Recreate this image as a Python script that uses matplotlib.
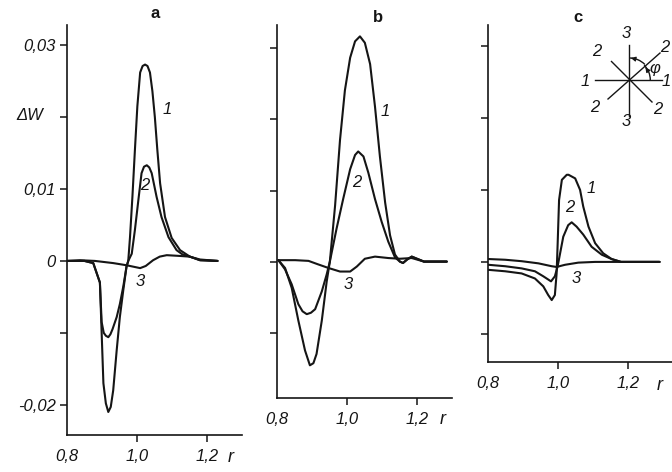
import numpy as np
import matplotlib
matplotlib.use("Agg")
import matplotlib.pyplot as plt
from matplotlib.patches import Arc

plt.rcParams['font.family'] = ['Liberation Sans', 'DejaVu Sans']
plt.rcParams['font.style'] = 'italic'
fs = 12
ink = '#151515'

# ---- panel a ----
ra1 = [0.800, 0.850, 0.875, 0.894, 0.899, 0.904, 0.911, 0.918, 0.925, 0.932, 0.942, 0.951,
       0.961, 0.970, 0.975, 0.980, 0.987, 0.994, 1.001, 1.009, 1.016, 1.023, 1.030, 1.037,
       1.044, 1.051, 1.058, 1.066, 1.080, 1.099, 1.123, 1.151, 1.180, 1.230]
wa1 = [0.0, 0.0, -0.0003, -0.0030, -0.0100, -0.0170, -0.0198, -0.0210, -0.0203, -0.0180,
       -0.0124, -0.0078, -0.0040, -0.0008, 0.0, 0.0033, 0.0090, 0.0154, 0.0215, 0.0262,
       0.0271, 0.0273, 0.0271, 0.0262, 0.0236, 0.0200, 0.0155, 0.0108, 0.0061, 0.0032,
       0.0015, 0.0006, 0.0001, 0.0]
ra2 = [0.800, 0.850, 0.875, 0.894, 0.899, 0.905, 0.911, 0.918, 0.924, 0.930, 0.942, 0.951,
       0.961, 0.970, 0.975, 0.985, 0.994, 1.004, 1.013, 1.020, 1.028, 1.035, 1.042, 1.056,
       1.070, 1.090, 1.113, 1.130, 1.151, 1.180, 1.230]
wa2 = [0.0, 0.0, -0.0003, -0.0030, -0.0085, -0.0100, -0.0104, -0.0106, -0.0102, -0.0095,
       -0.0078, -0.0060, -0.0035, -0.0008, 0.0, 0.0010, 0.0043, 0.0085, 0.0122, 0.0131,
       0.0133, 0.0130, 0.0122, 0.0089, 0.0061, 0.0033, 0.0015, 0.0009, 0.0006, 0.0001, 0.0]
ra3 = [0.800, 0.837, 0.880, 0.932, 0.970, 1.009, 1.025, 1.046, 1.065, 1.085, 1.120, 1.150,
       1.180, 1.230]
wa3 = [0.0, 0.0001, 0.0, -0.0003, -0.0006, -0.0010, -0.0007, 0.0001, 0.0006, 0.0008,
       0.0007, 0.0006, 0.0002, 0.0]

# ---- panel b ----
rb1 = [0.804, 0.823, 0.842, 0.861, 0.880, 0.894, 0.904, 0.913, 0.928, 0.942, 0.951, 0.966,
       0.980, 0.994, 1.009, 1.023, 1.037, 1.051, 1.066, 1.080, 1.094, 1.109, 1.123, 1.137,
       1.151, 1.160, 1.172, 1.185, 1.200, 1.220, 1.260, 1.285]
wb1 = [0.0002, -0.0009, -0.0037, -0.0083, -0.0125, -0.0146, -0.0143, -0.0130, -0.0083,
       -0.0028, 0.0, 0.0079, 0.0171, 0.0241, 0.0287, 0.0310, 0.0317, 0.0308, 0.0278, 0.0218,
       0.0148, 0.0083, 0.0037, 0.0010, 0.0, -0.0002, 0.0003, 0.0007, 0.0004, 0.0, 0.0, 0.0]
rb2 = [0.804, 0.823, 0.842, 0.861, 0.873, 0.885, 0.897, 0.909, 0.928, 0.942, 0.951, 0.970,
       0.989, 1.009, 1.023, 1.032, 1.047, 1.061, 1.080, 1.099, 1.118, 1.137, 1.151, 1.160,
       1.172, 1.185, 1.200, 1.220, 1.260, 1.285]
wb2 = [0.0002, -0.0011, -0.0032, -0.0060, -0.0070, -0.0074, -0.0072, -0.0067, -0.0042,
       -0.0018, 0.0, 0.0046, 0.0088, 0.0130, 0.0150, 0.0155, 0.0148, 0.0125, 0.0088, 0.0056,
       0.0028, 0.0006, 0.0, -0.0002, 0.0003, 0.0007, 0.0004, 0.0, 0.0, 0.0]
rb3 = [0.804, 0.852, 0.890, 0.918, 0.947, 0.980, 1.009, 1.028, 1.051, 1.080, 1.118, 1.151,
       1.185, 1.220, 1.285]
wb3 = [0.0002, 0.0002, 0.0001, -0.0004, -0.0009, -0.0014, -0.0014, -0.0007, 0.0004, 0.0007,
       0.0005, 0.0004, 0.0005, 0.0, 0.0]

# ---- panel c ----
rc1 = [0.801, 0.849, 0.896, 0.934, 0.958, 0.972, 0.982, 0.991, 0.996, 0.999, 1.003, 1.011,
       1.025, 1.030, 1.049, 1.063, 1.072, 1.087, 1.106, 1.129, 1.153, 1.180, 1.290]
wc1 = [-0.0011, -0.0013, -0.0016, -0.0023, -0.0034, -0.0046, -0.0053, -0.0046, -0.0016,
       0.0026, 0.0086, 0.0114, 0.0121, 0.0121, 0.0116, 0.0100, 0.0077, 0.0049, 0.0026,
       0.0012, 0.0004, 0.0, 0.0]
rc2 = [0.801, 0.849, 0.896, 0.934, 0.958, 0.980, 0.991, 0.999, 1.006, 1.015, 1.029, 1.039,
       1.053, 1.072, 1.096, 1.125, 1.153, 1.180, 1.290]
wc2 = [-0.0004, -0.0006, -0.0009, -0.0013, -0.0020, -0.0027, -0.0020, -0.0006, 0.0012,
       0.0035, 0.0051, 0.0055, 0.0049, 0.0038, 0.0021, 0.0010, 0.0004, 0.0, 0.0]
rc3 = [0.801, 0.849, 0.896, 0.944, 0.982, 0.996, 1.020, 1.058, 1.106, 1.290]
wc3 = [0.0004, 0.0003, 0.0001, -0.0002, -0.0006, -0.0007, -0.0004, -0.0001, 0.0, 0.0]

yticks = [-0.02, -0.01, 0.0, 0.01, 0.02, 0.03]
ylabels_a = ['-0,02', '', '0', '0,01', '', '0,03']
xticks = [0.8, 1.0, 1.2]
xlabels = ['0,8', '1,0', '1,2']

W, H = 672, 472
fig = plt.figure(figsize=(6.72, 4.72), dpi=100)

def frac(left, right, top, bottom):
    return [left / W, 1 - bottom / H, (right - left) / W, (bottom - top) / H]

panels = [
    (frac(67, 242, 25, 435), (0.8, 1.3), (-0.0242, 0.0328), True,
     [(ra1, wa1), (ra2, wa2), (ra3, wa3)],
     [(1.085, 0.021, '1'), (1.023, 0.0105, '2'), (1.009, -0.0029, '3')]),
    (frac(277, 452, 25, 398), (0.8, 1.3), (-0.0192, 0.0333), False,
     [(rb1, wb1), (rb2, wb2), (rb3, wb3)],
     [(1.109, 0.0211, '1'), (1.028, 0.0111, '2'), (1.004, -0.0032, '3')]),
    (frac(488, 672.5, 25, 362), (0.8, 1.327), (-0.0139, 0.0329), False,
     [(rc1, wc1), (rc2, wc2), (rc3, wc3)],
     [(1.096, 0.0102, '1'), (1.034, 0.0075, '2'), (1.053, -0.0023, '3')]),
]

for rect, xl, yl, first, curves, labels in panels:
    ax = fig.add_axes(rect)
    for r, w in curves:
        ax.plot(r, w, color=ink, lw=1.5, solid_capstyle='round', solid_joinstyle='round')
    ax.set_xlim(*xl)
    ax.set_ylim(*yl)
    ax.spines['top'].set_visible(False)
    ax.spines['right'].set_visible(False)
    for s in ('left', 'bottom'):
        ax.spines[s].set_linewidth(1.2)
        ax.spines[s].set_color(ink)
    ax.set_yticks(yticks, ylabels_a if first else [''] * len(yticks))
    ax.set_xticks(xticks, xlabels)
    ax.tick_params(direction='out', length=5, width=1.1, colors=ink, labelsize=fs)
    ax.tick_params(axis='x', pad=5)
    ax.tick_params(axis='y', pad=3)
    ax.xaxis.get_major_ticks()[0].tick1line.set_visible(False)
    ax.set_ylim(*yl)
    for x, y, t in labels:
        ax.text(x, y, t, fontsize=fs, ha='center', va='center', color=ink)
    ax.patch.set_alpha(0)

# overlay in pixel coordinates for panel letters, axis names and the angle sketch
ov = fig.add_axes([0, 0, 1, 1], zorder=5)
ov.set_xlim(0, W)
ov.set_ylim(H, 0)
ov.axis('off')
ov.patch.set_alpha(0)

for x, y, t in [(155, 14, 'a'), (378, 17, 'b'), (578, 18, 'c')]:
    ov.text(x, y, t, fontsize=fs, ha='center', va='center', color=ink, style='normal',
            fontweight='bold')
ov.text(30, 116, 'ΔW', fontsize=fs, ha='center', va='center', color=ink)
for x, y in [(231, 457), (443, 419), (660, 385)]:
    ov.text(x, y, 'r', fontsize=fs + 1, ha='center', va='center', color=ink)

cx, cy = 629.3, 80
ov.plot([595, 662], [cy, cy], color=ink, lw=1.0)
ov.plot([cx, cx], [45, 116], color=ink, lw=1.0)
ov.plot([611.5, 652], [61.5, 102], color=ink, lw=1.0)
ov.plot([608, 660], [99, 53], color=ink, lw=1.0)
ov.add_patch(Arc((cx, cy), 44, 44, theta1=-90, theta2=-45, color=ink, lw=1.0))
ov.add_patch(Arc((cx, cy), 42, 42, theta1=-45, theta2=0, color=ink, lw=1.0))
ov.annotate('', xy=(cx + 1.5, cy - 22), xytext=(cx + 6, cy - 21),
            arrowprops=dict(arrowstyle='-|>', color=ink, lw=0.8, mutation_scale=7))
ov.annotate('', xy=(cx + 14.5, cy - 15), xytext=(cx + 18, cy - 10),
            arrowprops=dict(arrowstyle='-|>', color=ink, lw=0.8, mutation_scale=7))
for x, y, t in [(626.5, 33, '3'), (626.5, 122, '3'), (597, 52, '2'), (665, 47, '2'),
                (585, 81, '1'), (666.5, 82, '1'), (595, 108, '2'), (658, 110, '2'),
                (655, 68, 'φ')]:
    ov.text(x, y, t, fontsize=fs, ha='center', va='center', color=ink)

fig.savefig('out.png', dpi=100, facecolor='white')
